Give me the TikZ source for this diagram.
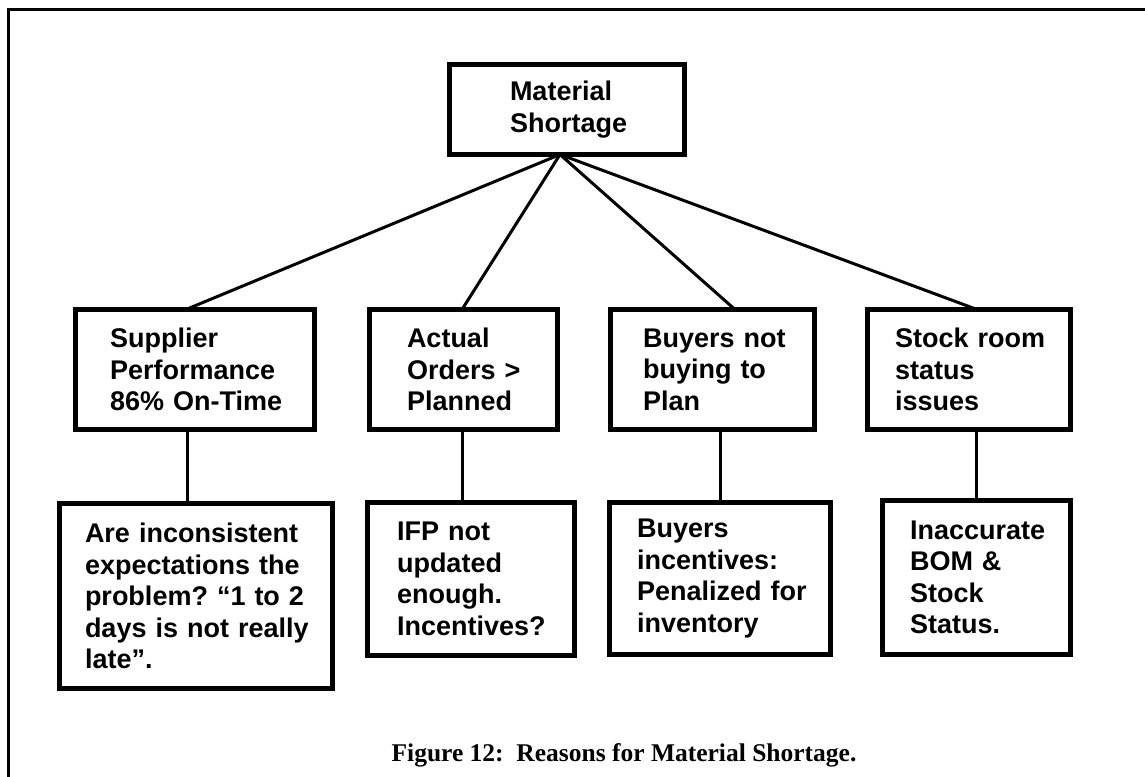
\documentclass[tikz,border=0pt]{standalone}
\usepackage{fontspec}
\setmainfont{Liberation Serif}
\newfontfamily\boxfont{Liberation Sans}
\frenchspacing
\begin{document}
\begin{tikzpicture}[x=1pt,y=-1pt,
  reason/.style={draw, line width=5pt, outer sep=0pt, inner xsep=0pt, inner ysep=2pt,
    anchor=north west, align=left,
    font=\boxfont\bfseries\fontsize{27}{31.5}\selectfont},
  link/.style={line width=3pt},
  frameline/.style={line width=3pt}]
\useasboundingbox (0,0) rectangle (1145,776);

% page frame (left and top edges)
\draw[frameline] (8,780) -- (8,10) -- (1150,10);

% root
\node[reason, text width=235pt, minimum height=90pt] (top) at (449.5,64.5)
  {\leftskip=60.5pt Material\\Shortage\par};

% first level causes
\node[reason, text width=239pt, minimum height=120pt] (s1) at (75.5,309.5)
  {\leftskip=34.5pt Supplier\\Performance\\86\% On-Time\par};
\node[reason, text width=188pt, minimum height=120pt] (s2) at (369.5,309.5)
  {\leftskip=37.5pt Actual\\Orders >\\Planned\par};
\node[reason, text width=204pt, minimum height=120pt] (s3) at (610.5,309.5)
  {\leftskip=32.5pt Buyers not\\buying to\\Plan\par};
\node[reason, text width=203pt, minimum height=120pt] (s4) at (867.5,309.5)
  {\leftskip=27.5pt Stock room\\status\\issues\par};

% second level causes
\node[reason, text width=273pt, minimum height=185pt] (r1) at (59.5,503.5)
  {\leftskip=25.5pt Are inconsistent\\expectations the\\problem? “1 to 2\\days is not really\\late”.\par};
\node[reason, text width=207pt, minimum height=153pt] (r2) at (367.5,502.5)
  {\leftskip=29.5pt IFP not\\updated\\enough.\\Incentives?\par};
\node[reason, text width=221pt, minimum height=152pt] (r3) at (609.5,502.5)
  {\leftskip=27.5pt Buyers\\incentives:\\Penalized for\\inventory\par};
\node[reason, text width=188pt, minimum height=154pt] (r4) at (882.5,500.5)
  {\leftskip=27.5pt Inaccurate\\BOM \&\\Stock\\Status.\par};

% connectors from the root
\coordinate (hub) at ([xshift=-7pt]top.south);
\draw[link] (hub) -- ([xshift=-9pt]s1.north);
\draw[link] (hub) -- ([xshift=-1.5pt]s2.north);
\draw[link] (hub) -- ([xshift=22.5pt]s3.north);
\draw[link] (hub) -- ([xshift=8pt]s4.north);

% connectors to the second level
\draw[link] ([xshift=-8pt]s1.south) -- ([xshift=-9pt]r1.north);
\draw[link] ([xshift=-1.5pt]s2.south) -- ([xshift=-9pt]r2.north);
\draw[link] ([xshift=7.5pt]s3.south) -- (r3.north);
\draw[link] ([xshift=7pt]s4.south) -- ([xshift=-0.5pt]r4.north);

% caption
\node[anchor=base, inner sep=0pt, font=\bfseries\fontsize{25.5}{30}\selectfont] (caption) at (624,761)
  {Figure 12:\ \ Reasons for Material Shortage.};
\end{tikzpicture}
\end{document}
